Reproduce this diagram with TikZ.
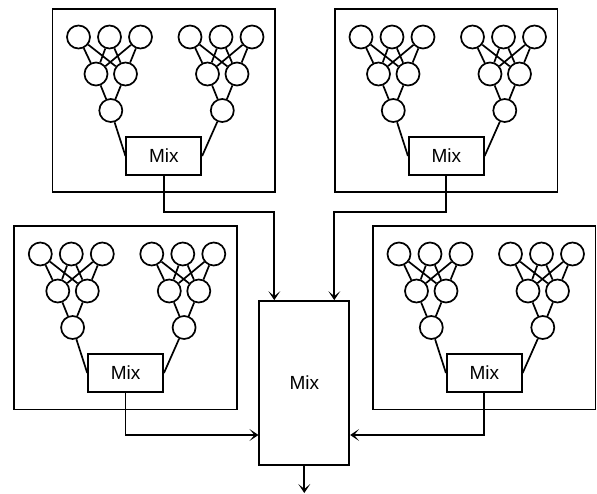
\documentclass[tikz,border=0pt]{standalone}
\usepackage{fontspec}
\setmainfont{Liberation Sans}
\usetikzlibrary{arrows.meta}
\tikzset{
  lw/.style={line width=1.7pt},
  panelbox/.style={lw, draw, rectangle, inner sep=0pt, minimum width=222.5pt, minimum height=183.5pt, anchor=north west},
  neuron/.style={lw, draw, circle, inner sep=0pt, minimum size=23pt},
  mixbox/.style={lw, draw, rectangle, inner sep=0pt, minimum width=75pt, minimum height=38.5pt, font=\fontsize{19}{22}\selectfont},
  bigmix/.style={lw, draw, rectangle, inner sep=0pt, minimum width=90pt, minimum height=164pt, font=\fontsize{19}{22}\selectfont},
  wire/.style={lw},
  arr/.style={lw, -{Stealth[length=9pt,width=12pt,inset=5pt]}}
}
\newcommand\mypanel[3]{%
  \begin{scope}[shift={(#2,#3)}]
    \node[panelbox] (#1box) at (0,0) {};
    \node[mixbox] (#1mix) at (112.3,148) {Mix};
    \foreach \t/\dx in {a/0,b/111.5} {
      \node[neuron] (#1\t1) at (27+\dx,29) {};
      \node[neuron] (#1\t2) at (58+\dx,29) {};
      \node[neuron] (#1\t3) at (89+\dx,29) {};
      \node[neuron] (#1\t4) at (44.5+\dx,66) {};
      \node[neuron] (#1\t5) at (74+\dx,66) {};
      \node[neuron] (#1\t6) at (59.3+\dx,102.5) {};
      \foreach \i in {1,2,3} {
        \draw[wire] (#1\t\i) -- (#1\t4);
        \draw[wire] (#1\t\i) -- (#1\t5);
      }
      \draw[wire] (#1\t4) -- (#1\t6);
      \draw[wire] (#1\t5) -- (#1\t6);
    }
    \draw[wire] (#1a6) -- (#1mix.west);
    \draw[wire] (#1b6) -- (#1mix.east);
  \end{scope}}
\begin{document}
\begin{tikzpicture}[x=1pt,y=-1pt]
\useasboundingbox (0,0) rectangle (597,494);
\mypanel{TL}{51.5}{8}
\mypanel{TR}{334}{8}
\mypanel{BL}{13.3}{225}
\mypanel{BR}{372}{225}
\node[bigmix] (C) at (304.3,383) {Mix};
\coordinate (out) at (304.3,493);
\coordinate (tl) at (274.3,211.7);
\coordinate (tr) at (334.3,211.7);
\draw[arr] (TLmix.south) |- (tl) -- (tl |- C.north);
\draw[arr] (TRmix.south) |- (tr) -- (tr |- C.north);
\draw[arr] (BLmix.south) |- ([yshift=-52pt]C.west);
\draw[arr] (BRmix.south) |- ([yshift=-52pt]C.east);
\draw[arr] (C.south) -- (out);
\end{tikzpicture}
\end{document}
